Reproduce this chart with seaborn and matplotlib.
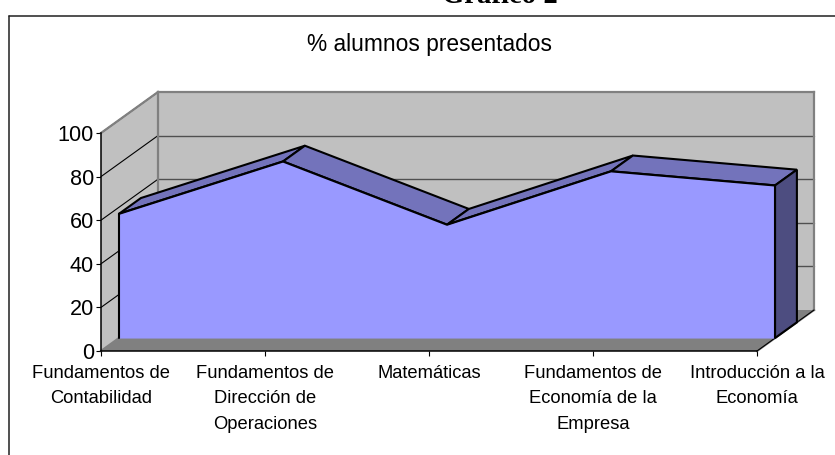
#!/usr/bin/env python
# -*- coding: utf-8 -*-

import numpy as np
import pandas as pd
import matplotlib
matplotlib.use("Agg")
import matplotlib.pyplot as plt
import seaborn as sns

sns.set_theme(style="white")
plt.rcParams['font.family'] = ['Liberation Sans', 'DejaVu Sans']

categorias = ["Fundamentos de\nContabilidad",
              "Fundamentos de\nDirección de\nOperaciones",
              "Matemáticas",
              "Fundamentos de\nEconomía de la\nEmpresa",
              "Introducción a la\nEconomía"]
presentados = [57, 81, 52, 76.5, 70]
ticks_y = [0, 20, 40, 60, 80, 100]
titulo = "% alumnos presentados"

W, H = 835, 455
# depth of the box in axis units (57 px right, 41 px up at full depth)
DX = 57 / 164
DY = 41 / 2.18
SERIE_FRENTE = 0.316
SERIE_FONDO = 0.70


def proy(x, y, d):
    x = np.asarray(x, dtype=float)
    y = np.asarray(y, dtype=float)
    return x + DX * d, y + DY * d


def poly(ax, puntos, **kw):
    xs = [p[0] for p in puntos]
    ys = [p[1] for p in puntos]
    ax.fill(xs, ys, clip_on=False, **kw)


fig = plt.figure(figsize=(W / 100, H / 100), dpi=100)
ax = fig.add_axes([101 / W, 1 - 351 / H, 656 / W, 218 / H])
ax.set_xlim(0, 4)
ax.set_ylim(0, 100)
ax.patch.set_alpha(0)
sns.despine(ax=ax, top=True, right=True)
for s in ["left", "bottom"]:
    ax.spines[s].set_color("black")
    ax.spines[s].set_linewidth(1.1)
    ax.spines[s].set_zorder(8)

xs = np.arange(len(categorias))
n = xs[-1]
gris = "#c0c0c0"
borde = "#808080"

# walls and floor
poly(ax, [proy(0, 0, 0), proy(0, 100, 0), proy(0, 100, 1), proy(0, 0, 1)],
     facecolor=gris, edgecolor="none", zorder=1)
poly(ax, [proy(0, 0, 1), proy(0, 100, 1), proy(n, 100, 1), proy(n, 0, 1)],
     facecolor=gris, edgecolor="none", zorder=1)
poly(ax, [proy(0, 0, 0), proy(n, 0, 0), proy(n, 0, 1), proy(0, 0, 1)],
     facecolor="#808080", edgecolor="none", zorder=1)

# gridlines
for t in ticks_y[1:-1] + [100]:
    a = proy(0, t, 0)
    b = proy(0, t, 1)
    c = proy(n, t, 1)
    ax.plot([a[0], b[0]], [a[1], b[1]], color="black", lw=0.8, zorder=2, clip_on=False)
    if t < 100:
        ax.plot([b[0], c[0]], [b[1], c[1]], color="#505050", lw=1.0, zorder=2, clip_on=False)
# outline of the box in grey
for a, b in [((0, 100, 0), (0, 100, 1)), ((0, 100, 1), (n, 100, 1)),
             ((n, 100, 1), (n, 0, 1)), ((0, 100, 1), (0, 0, 1)),
             ((n, 0, 1), (n, 0, 0)), ((0, 0, 0), (0, 0, 1))]:
    pa, pb = proy(*a), proy(*b)
    ax.plot([pa[0], pb[0]], [pa[1], pb[1]], color=borde, lw=1.6, zorder=3,
            clip_on=False, solid_capstyle="projecting")
pa, pb = proy(n, 0, 0), proy(n, 0, 1)
ax.plot([pa[0], pb[0]], [pa[1], pb[1]], color="black", lw=0.8, zorder=3, clip_on=False)

# top band of the area
for i in range(n):
    poly(ax, [proy(xs[i], presentados[i], SERIE_FRENTE),
              proy(xs[i + 1], presentados[i + 1], SERIE_FRENTE),
              proy(xs[i + 1], presentados[i + 1], SERIE_FONDO),
              proy(xs[i], presentados[i], SERIE_FONDO)],
         facecolor="#7373bb", edgecolor="black", lw=1.5, joinstyle="miter", zorder=4)

# right side of the area
poly(ax, [proy(n, 0, SERIE_FRENTE), proy(n, presentados[-1], SERIE_FRENTE),
          proy(n, presentados[-1], SERIE_FONDO), proy(n, 0, SERIE_FONDO)],
     facecolor="#4d4d80", edgecolor="black", lw=1.5, zorder=4)

# front face
fx, fy = proy(xs, presentados, SERIE_FRENTE)
bx, by = proy(xs, np.zeros(len(xs)), SERIE_FRENTE)
ax.fill_between(fx, fy, by, color="#9999ff", lw=0, zorder=5, clip_on=False)
df = pd.DataFrame({"x": fx, "y": fy})
sns.lineplot(data=df, x="x", y="y", color="black", lw=1.6, ax=ax, zorder=6, clip_on=False)
ax.plot([fx[0], bx[0]], [fy[0], by[0]], color="black", lw=1.5, zorder=6, clip_on=False)
ax.plot([fx[-1], bx[-1]], [fy[-1], by[-1]], color="black", lw=1.5, zorder=6, clip_on=False)

ax.set_xlabel("")
ax.set_ylabel("")
ax.set_xticks(xs)
ax.set_xticklabels(categorias, fontsize=13.2, color="black", linespacing=1.65, va="top")
ax.set_yticks(ticks_y)
ax.set_yticklabels([str(t) for t in ticks_y], fontsize=15.6, color="black")
ax.tick_params(axis="x", length=3.5, width=0.8, color="black", pad=6.5, bottom=True)
ax.tick_params(axis="y", length=3.5, width=0.8, color="black", pad=1.5, left=True)

# chart frame, running off the page on the top right and bottom
fig.add_artist(plt.Line2D([8.5 / W, 8.5 / W], [0, 1 - 15.5 / H], color="#202020", lw=1.1))
fig.add_artist(plt.Line2D([8.5 / W, 1], [1 - 15.5 / H, 1 - 15.5 / H], color="#202020", lw=1.1))
fig.text(430 / W, 1 - 45 / H, titulo, ha="center", va="center", fontsize=16.4, color="black")
fig.text(500 / W, 1 - 3 / H, "Gráfico 2", ha="center", va="baseline", fontsize=20.7,
         fontweight="bold", family=["Liberation Serif", "DejaVu Serif"], color="black")

fig.savefig("out.png", dpi=100)
